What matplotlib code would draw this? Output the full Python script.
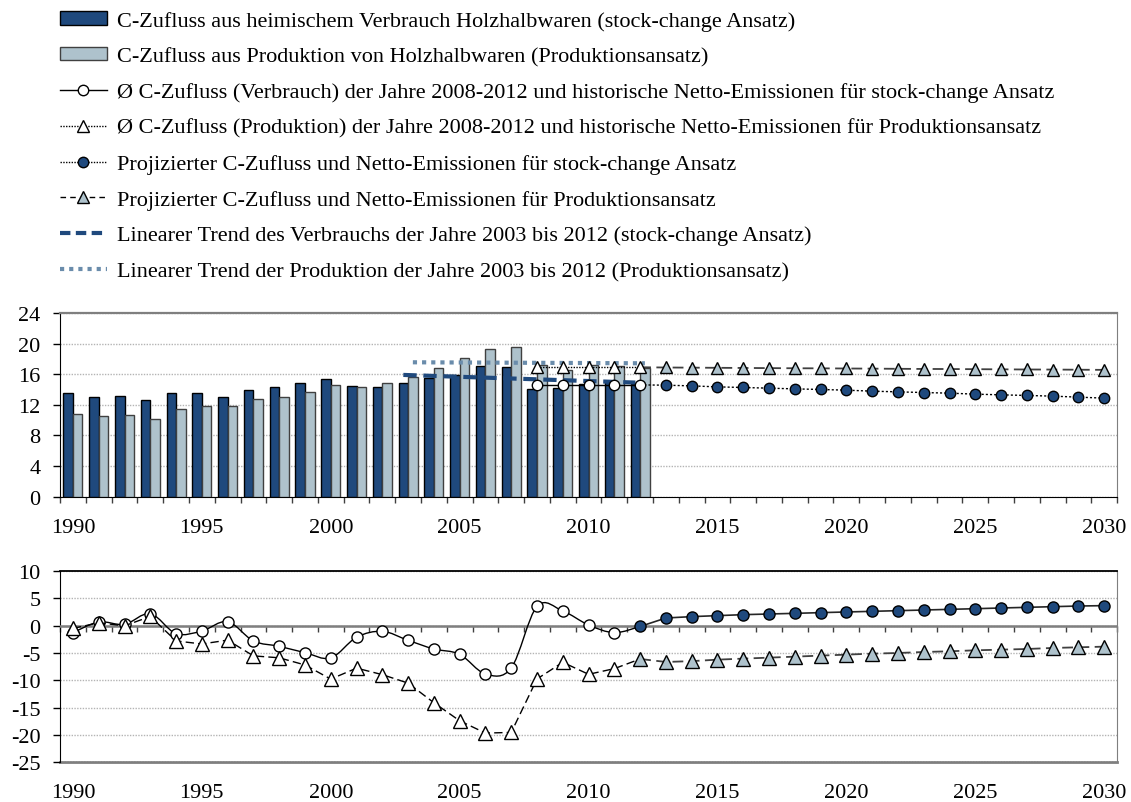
import numpy as np
import matplotlib.pyplot as plt
from matplotlib.path import Path
from matplotlib.patches import PathPatch, Patch
from matplotlib.lines import Line2D

plt.rcParams['font.family'] = ['Liberation Serif', 'DejaVu Serif']
plt.rcParams['font.size'] = 16
plt.rcParams['axes.unicode_minus'] = False

DARK = '#1f497d'
LIGHT = '#aec2cc'
TREND_LIGHT = '#6a8cab'
GRID = '#b4b4b4'
FRAME = '#7f7f7f'

# C-Zufluss 1990-2012 (Mio. t CO2)
years_hist = np.arange(1990, 2013)
zufluss_verbrauch = [13.5, 13.0, 13.1, 12.6, 13.5, 13.5, 13.0, 13.95, 14.3, 14.8,
                     15.35, 14.5, 14.3, 14.85, 15.45, 15.85, 17.05, 17.0, 14.05, 14.25,
                     14.75, 14.95, 14.7]
zufluss_produktion = [10.75, 10.5, 10.65, 10.2, 11.5, 11.85, 11.8, 12.8, 13.05, 13.65,
                      14.6, 14.35, 14.85, 15.6, 16.85, 18.15, 19.25, 19.6, 17.25, 16.5,
                      17.2, 17.1, 16.75]

# Mittelwerte 2008-2012
years_avg = np.arange(2008, 2013)
avg_verbrauch = [14.6] * 5
avg_produktion = [16.9] * 5

# Projektion 2013-2030
years_proj = np.arange(2013, 2031)
proj_zufluss_verbrauch = [14.56, 14.47, 14.34, 14.26, 14.17, 14.08, 14.0, 13.91, 13.78,
                          13.69, 13.6, 13.52, 13.39, 13.3, 13.22, 13.13, 13.0, 12.87]
proj_zufluss_produktion = [16.87, 16.85, 16.83, 16.81, 16.79, 16.77, 16.76, 16.74, 16.72,
                           16.7, 16.68, 16.67, 16.65, 16.63, 16.61, 16.6, 16.58, 16.56]

# lineare Trends 2003-2012 (Anfangs- und Endwert)
trend_years = [2003, 2012]
trend_verbrauch = [15.9, 14.9]
trend_produktion = [17.55, 17.42]

# Netto-Emissionen, historisch 1990-2011
years_net = np.arange(1990, 2012)
net_verbrauch = [-1.28, 0.67, 0.24, 2.19, -1.46, -0.98, 0.73, -2.8, -3.78, -4.94,
                 -5.91, -2.13, -1.04, -2.68, -4.27, -5.24, -8.84, -7.74, 3.53, 2.68,
                 0.12, -1.28]
net_produktion = [-0.5, 0.52, -0.03, 1.68, -2.8, -3.35, -2.65, -5.53, -5.88, -7.19,
                  -9.78, -7.77, -8.96, -10.51, -14.1, -17.4, -19.65, -19.53, -9.75, -6.7,
                  -8.9, -7.86]

# Netto-Emissionen, projiziert 2012-2030
years_net_proj = np.arange(2012, 2031)
proj_net_verbrauch = [-0.15, 1.4, 1.65, 1.83, 2.01, 2.13, 2.25, 2.38, 2.5, 2.62,
                      2.74, 2.86, 2.98, 3.1, 3.23, 3.35, 3.47, 3.59, 3.66]
proj_net_produktion = [-6.1, -6.64, -6.49, -6.22, -6.03, -5.85, -5.67, -5.48, -5.3, -5.12,
                       -5.0, -4.82, -4.69, -4.51, -4.39, -4.27, -4.08, -3.96, -3.84]

labels = [
    'C-Zufluss aus heimischem Verbrauch Holzhalbwaren (stock-change Ansatz)',
    'C-Zufluss aus Produktion von Holzhalbwaren (Produktionsansatz)',
    'Ø C-Zufluss (Verbrauch) der Jahre 2008-2012 und historische Netto-Emissionen für stock-change Ansatz',
    'Ø C-Zufluss (Produktion) der Jahre 2008-2012 und historische Netto-Emissionen für Produktionsansatz',
    'Projizierter C-Zufluss und Netto-Emissionen für stock-change Ansatz',
    'Projizierter C-Zufluss und Netto-Emissionen für Produktionsansatz',
    'Linearer Trend des Verbrauchs der Jahre 2003 bis 2012 (stock-change Ansatz)',
    'Linearer Trend der Produktion der Jahre 2003 bis 2012 (Produktionsansatz)',
]


def smooth_path(x, y):
    # Bezier-Glättung wie bei "geglätteter Linie" in Excel
    x = np.asarray(x, float)
    y = np.asarray(y, float)
    px = np.concatenate([[x[0]], x, [x[-1]]])
    py = np.concatenate([[y[0]], y, [y[-1]]])
    verts = [(x[0], y[0])]
    codes = [Path.MOVETO]
    for i in range(len(x) - 1):
        c1 = (x[i] + (px[i + 2] - px[i]) / 6, y[i] + (py[i + 2] - py[i]) / 6)
        c2 = (x[i + 1] - (px[i + 3] - px[i + 1]) / 6, y[i + 1] - (py[i + 3] - py[i + 1]) / 6)
        verts += [c1, c2, (x[i + 1], y[i + 1])]
        codes += [Path.CURVE4] * 3
    return Path(verts, codes)


def style_xaxis(ax):
    ax.set_xlim(1989.5, 2030.5)
    ax.set_xticks(np.arange(1990, 2031, 5))
    ax.set_xticks(np.arange(1989.5, 2031, 1), minor=True)
    ax.tick_params(axis='x', which='major', length=0, pad=15)
    ax.tick_params(axis='x', which='minor', length=4.5, width=1, direction='out', color='#404040')


fig = plt.figure(figsize=(11.31, 8.03), dpi=100)
ax1 = fig.add_axes([0.0531, 0.3802, 0.9346, 0.2289])
ax2 = fig.add_axes([0.0531, 0.0494, 0.9346, 0.2383])

# --- oberes Diagramm: C-Zufluss ---
bw = 0.37
off = 0.185
ax1.bar(years_hist - off, zufluss_verbrauch, width=bw, color=DARK, edgecolor='black', linewidth=1, zorder=3)
ax1.bar(years_hist + off, zufluss_produktion, width=bw, color=LIGHT, edgecolor='#404040', linewidth=1, zorder=3)

ax1.plot(np.asarray(trend_years) - off, trend_verbrauch, color=DARK, lw=3, dashes=(3.2, 1.6), zorder=4)
ax1.plot(np.asarray(trend_years) + off, trend_produktion, color=TREND_LIGHT, lw=3, dashes=(1, 1.2), zorder=4)

ax1.plot(np.r_[2012, years_proj], np.r_[avg_produktion[-1], proj_zufluss_produktion],
         color='#404040', lw=1.3, dashes=(6, 3), marker='^', ms=9, mfc=LIGHT, mec='black',
         markevery=slice(1, None), zorder=5)
ax1.plot(np.r_[2012, years_proj], np.r_[avg_verbrauch[-1], proj_zufluss_verbrauch],
         color='black', lw=1, dashes=(1.5, 1.5), marker='o', ms=7.5, mfc=DARK, mec='black',
         markevery=slice(1, None), zorder=5)
ax1.plot(years_avg, avg_produktion, color='black', lw=1, dashes=(1, 1), marker='^', ms=9,
         mfc='white', mec='black', zorder=6)
ax1.plot(years_avg, avg_verbrauch, color='black', lw=1, marker='o', ms=7.5,
         mfc='white', mec='black', zorder=6)

ax1.set_ylim(0, 24)
ax1.set_yticks(range(0, 25, 4))
ax1.yaxis.grid(True, color=GRID, linestyle=(0, (1, 1)), lw=1)
ax1.set_axisbelow(True)
style_xaxis(ax1)
ax1.tick_params(axis='y', length=5, width=1, pad=9)
ax1.spines['left'].set_color('black')
ax1.spines['bottom'].set_color('black')
for s in ('top', 'right'):
    ax1.spines[s].set_color(FRAME)
ax1.spines['top'].set_linewidth(1.6)

# --- unteres Diagramm: Netto-Emissionen ---
path_v = smooth_path(np.r_[years_net, 2012], np.r_[net_verbrauch, proj_net_verbrauch[0]])
ax2.add_patch(PathPatch(path_v, fill=False, edgecolor='black', lw=1, zorder=4))
ax2.plot(years_net, net_verbrauch, ls='none', marker='o', ms=8, mfc='white', mec='black', zorder=5)
ax2.plot(np.r_[years_net, 2012], np.r_[net_produktion, proj_net_produktion[0]],
         color='black', lw=1, dashes=(6, 3), marker='^', ms=9.5, mfc='white', mec='black',
         markevery=slice(0, len(years_net)), zorder=5)
ax2.plot(years_net_proj, proj_net_produktion, color='#404040', lw=1.3, dashes=(6, 3),
         marker='^', ms=9.5, mfc=LIGHT, mec='black', zorder=6)
ax2.plot(years_net_proj, proj_net_verbrauch, color='#262626', lw=1.2, marker='o', ms=8,
         mfc=DARK, mec='black', zorder=6)

ax2.set_ylim(-25, 10)
ax2.set_yticks(range(-25, 11, 5))
ax2.yaxis.grid(True, color=GRID, linestyle=(0, (1, 1)), lw=1)
ax2.set_axisbelow(True)
ax2.tick_params(axis='y', length=5, width=1, pad=9)
ax2.axhline(0, color=FRAME, lw=1.8, zorder=3)

# Kategorieachse liegt bei 0, Beschriftung unten
style_xaxis(ax2)
ax2.spines['bottom'].set_position(('data', 0))
ax2.spines['bottom'].set_color(FRAME)
ax2.tick_params(axis='x', labelbottom=False)
sec = ax2.secondary_xaxis('bottom')
sec.set_xticks(np.arange(1990, 2031, 5))
sec.tick_params(axis='x', length=0, pad=15)
sec.spines['bottom'].set_color(FRAME)
sec.spines['bottom'].set_linewidth(2)
ax2.spines['left'].set_color('black')
ax2.spines['top'].set_color('black')
ax2.spines['top'].set_linewidth(1.3)
ax2.spines['right'].set_color(FRAME)

# --- Legende ---
handles = [
    Patch(facecolor=DARK, edgecolor='black', lw=1),
    Patch(facecolor=LIGHT, edgecolor='#404040', lw=1),
    Line2D([], [], color='black', lw=1, marker='o', ms=7.5, mfc='white', mec='black'),
    Line2D([], [], color='black', lw=1, dashes=(1, 1), marker='^', ms=9, mfc='white', mec='black'),
    Line2D([], [], color='black', lw=1, dashes=(1, 1), marker='o', ms=7.5, mfc=DARK, mec='black'),
    Line2D([], [], color='black', lw=1, dashes=(4, 3), marker='^', ms=9, mfc=LIGHT, mec='black'),
    Line2D([], [], color=DARK, lw=3, dashes=(2.5, 1.3)),
    Line2D([], [], color=TREND_LIGHT, lw=3, dashes=(1, 1.2)),
]
fig.legend(handles, labels, loc='upper left', bbox_to_anchor=(60 / 1131, 1 - 12 / 803),
           frameon=False, borderpad=0, borderaxespad=0, handlelength=2.1,
           handletextpad=0.45, labelspacing=0.72, fontsize=16, handleheight=0.55)

fig.savefig('out.png', dpi=100)
